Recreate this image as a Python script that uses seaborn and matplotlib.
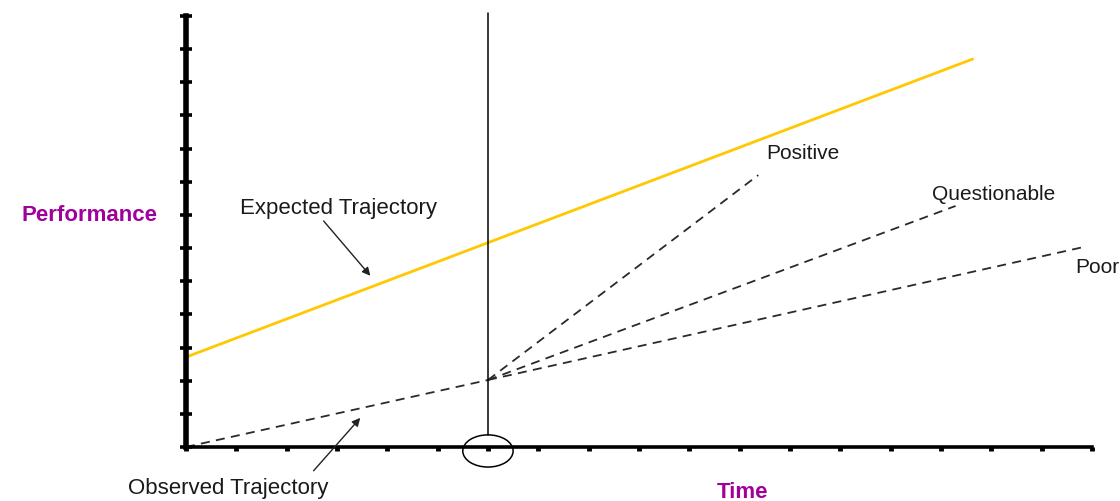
import numpy as np
import pandas as pd
import matplotlib
matplotlib.use('Agg')
import matplotlib.pyplot as plt
from matplotlib.patches import Ellipse
import seaborn as sns

sns.set_style('white')
plt.rcParams['font.family'] = ['Liberation Sans', 'DejaVu Sans']

# ------------------------------------------------------------------
# Data (in grid units)
# ------------------------------------------------------------------
expected_x = [0, 15.63]
expected_y = [2.71, 11.70]

observed_x = [0, 6]
observed_y = [0, 2.02]

branch_names = ['Positive', 'Questionable', 'Poor']
branch_end_x = [11.37, 15.29, 17.83]
branch_end_y = [8.20, 7.27, 6.03]
branch_label_x = [12.26, 16.05, 18.10]
branch_label_y = [8.87, 7.66, 5.43]

now_x = 6
x_ticks = list(range(0, 19))
y_ticks = list(range(0, 14))

YELLOW = '#FFC800'
PURPLE = '#A0009C'
DASH = '#2a2a2a'

# ------------------------------------------------------------------
# Plot
# ------------------------------------------------------------------
fig = plt.figure(figsize=(11.2, 5.02), dpi=100)
ax = fig.add_axes([0.166, 0.1076, 0.809, 0.8586])

sns.lineplot(x=expected_x, y=expected_y, ax=ax, color=YELLOW, lw=2.0)
sns.lineplot(x=observed_x, y=observed_y, ax=ax, color=DASH, lw=1.3,
             linestyle=(0, (5, 3.5)))
for name, ex, ey in zip(branch_names, branch_end_x, branch_end_y):
    sns.lineplot(x=[observed_x[-1], ex], y=[observed_y[-1], ey], ax=ax,
                 color=DASH, lw=1.3, linestyle=(0, (5, 3.5)))

# "now" marker: vertical line and circle on the time axis
ax.plot([now_x, now_x], [0.36, 13.09], color='black', lw=1.1, clip_on=False)
ax.add_patch(Ellipse((now_x, -0.12), 1.0, 0.97, fill=False, edgecolor='black',
                     lw=1.1, clip_on=False))

# labels
for name, lx, ly in zip(branch_names, branch_label_x, branch_label_y):
    ax.text(lx, ly, name, ha='center', va='center', fontsize=15,
            color='#1a1a1a', clip_on=False)

ax.text(3.04, 7.21, 'Expected Trajectory', ha='center', va='center',
        fontsize=16, color='#1a1a1a')
ax.annotate('', xy=(3.70, 5.10), xytext=(2.70, 6.88),
            arrowprops=dict(arrowstyle='-|>', color='#222222', lw=1.0,
                            mutation_scale=12))

ax.text(0.83, -1.21, 'Observed Trajectory', ha='center', va='center',
        fontsize=16, color='#1a1a1a', clip_on=False)
ax.annotate('', xy=(3.5, 0.94), xytext=(2.5, -0.78),
            arrowprops=dict(arrowstyle='-|>', color='#222222', lw=1.0,
                            mutation_scale=12), annotation_clip=False)

ax.text(-1.91, 7.0, 'Performance', ha='center', va='center', fontsize=16,
        fontweight='bold', color=PURPLE, clip_on=False)
ax.text(11.05, -1.33, 'Time', ha='center', va='center', fontsize=16,
        fontweight='bold', color=PURPLE, clip_on=False)

# axes styling
ax.set_xlim(0, 18)
ax.set_ylim(0, 13)
ax.set_xticks(x_ticks)
ax.set_yticks(y_ticks)
ax.set_xticklabels([])
ax.set_yticklabels([])
ax.set_xlabel('')
ax.set_ylabel('')
for side in ['top', 'right']:
    ax.spines[side].set_visible(False)
ax.spines['left'].set_linewidth(4.0)
ax.spines['bottom'].set_linewidth(2.6)
ax.spines['left'].set_color('black')
ax.spines['bottom'].set_color('black')
ax.tick_params(axis='y', direction='inout', length=8, width=2.6, color='black', left=True)
ax.tick_params(axis='x', direction='out', length=3, width=3.5, color='black', bottom=True)
ax.grid(False)

fig.savefig('out.png', dpi=100)
